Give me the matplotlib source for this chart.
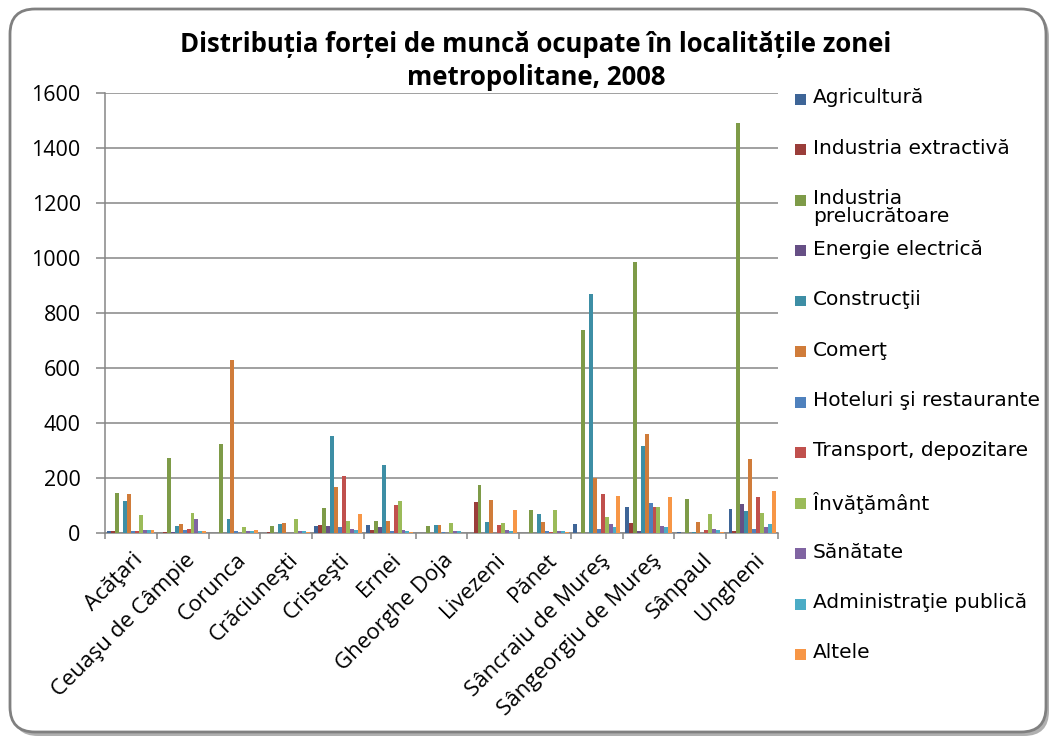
# -*- coding: utf-8 -*-

import matplotlib
import matplotlib.pyplot as plt
import numpy as np
from matplotlib.patches import FancyBboxPatch, Rectangle
from matplotlib.transforms import ScaledTranslation

matplotlib.use('Agg')

localitati = ['Acăţari', 'Ceuaşu de Câmpie', 'Corunca', 'Crăciuneşti', 'Cristeşti', 'Ernei',
              'Gheorghe Doja', 'Livezeni', 'Pănet', 'Sâncraiu de Mureş', 'Sângeorgiu de Mureş',
              'Sânpaul', 'Ungheni']

sectoare = ['Agricultură', 'Industria extractivă', 'Industria\nprelucrătoare', 'Energie electrică',
            'Construcţii', 'Comerţ', 'Hoteluri şi restaurante', 'Transport, depozitare',
            'Învăţământ', 'Sănătate', 'Administraţie publică', 'Altele']

agricultura = [8, 0, 0, 0, 27, 30, 0, 0, 0, 34, 96, 5, 88]
ind_extractiva = [8, 5, 0, 5, 30, 12, 0, 113, 0, 0, 38, 0, 8]
ind_prelucratoare = [146, 272, 323, 27, 92, 45, 27, 175, 84, 740, 985, 125, 1490]
energie = [0, 5, 0, 0, 27, 23, 0, 0, 0, 0, 8, 0, 107]
constructii = [117, 27, 52, 34, 355, 247, 30, 41, 70, 870, 316, 5, 81]
comert = [142, 34, 630, 37, 167, 45, 30, 120, 41, 202, 360, 41, 270]
hoteluri = [8, 12, 8, 0, 23, 8, 5, 0, 8, 16, 111, 0, 16]
transport = [8, 16, 0, 0, 207, 102, 0, 30, 5, 142, 96, 12, 132]
invatamant = [66, 73, 23, 52, 45, 117, 37, 37, 84, 59, 96, 70, 74]
sanatate = [12, 52, 8, 8, 16, 12, 8, 12, 8, 34, 27, 16, 23]
administratie = [12, 8, 8, 8, 12, 8, 8, 8, 8, 23, 23, 12, 34]
altele = [12, 8, 12, 5, 70, 5, 0, 84, 5, 135, 133, 5, 154]

serii = [agricultura, ind_extractiva, ind_prelucratoare, energie, constructii, comert,
         hoteluri, transport, invatamant, sanatate, administratie, altele]

culori = ['#3e6597', '#9a3d3a', '#7e9b48', '#664f85', '#3d8ea5', '#d07c3a',
          '#4f81bd', '#c0504d', '#9bbb59', '#8064a2', '#4bacc6', '#f79646']

W, H = 1057, 740
fig = plt.figure(figsize=(W / 100, H / 100), dpi=100)
fig.patch.set_facecolor('white')

# chart frame with shadow
shadow = FancyBboxPatch((0.13, 0.04), 10.36, 7.24, boxstyle='round,pad=0,rounding_size=0.25',
                        transform=fig.dpi_scale_trans, facecolor='#b0b0b0', edgecolor='none', zorder=-2)
frame = FancyBboxPatch((0.10, 0.08), 10.36, 7.23, boxstyle='round,pad=0,rounding_size=0.25',
                       transform=fig.dpi_scale_trans, facecolor='white', edgecolor='#808080',
                       lw=2, zorder=-1)
fig.patches.extend([shadow, frame])

ax = fig.add_axes([105 / W, 1 - 533.3 / H, (778 - 105) / W, (533.3 - 92.7) / H])
ax.set_facecolor('none')
ax.set_zorder(1)

x = np.arange(len(localitati)) + 0.5
width = 0.076
for j, (vals, c) in enumerate(zip(serii, culori)):
    ax.bar(x + (j - 5.5) * width, vals, width=width, color=c, lw=0, zorder=3)

ax.set_xlim(0, len(localitati))
ax.set_ylim(0, 1600)
ax.set_yticks(np.arange(0, 1601, 200))
ax.yaxis.grid(True, color='#868686', lw=1.1, zorder=0)
ax.tick_params(axis='y', length=6.5, width=1.1, color='#868686', pad=11,
               labelsize=15.5, labelfontfamily='Open Sans')

ax.set_xticks(np.arange(0, len(localitati) + 1))
ax.set_xticklabels([])
ax.set_xticks(x, minor=True)
ax.set_xticklabels(localitati, minor=True, rotation=45, ha='right', va='center',
                   rotation_mode='anchor', fontsize=16, family='Open Sans')
ax.tick_params(axis='x', which='major', length=4.5, width=1.1, color='#868686')
ax.tick_params(axis='x', which='minor', length=0, pad=17)
shift = ScaledTranslation(9 / 100, 0, fig.dpi_scale_trans)
for lbl in ax.get_xticklabels(minor=True):
    lbl.set_transform(lbl.get_transform() + shift)

for s in ['top', 'right']:
    ax.spines[s].set_visible(False)
for s in ['left', 'bottom']:
    ax.spines[s].set_color('#868686')
    ax.spines[s].set_linewidth(1.1)

fig.text(536 / W, 1 - 61 / H,
         'Distribuția forței de muncă ocupate în localitățile zonei\nmetropolitane, 2008',
         ha='center', va='center', fontsize=18.5, fontweight='bold', family='Open Sans',
         linespacing=1.25)

# legend, one slot per sector
for i, (lab, c) in enumerate(zip(sectoare, culori)):
    yc = 99 + 50.5 * i
    fig.patches.append(Rectangle((795 / W, 1 - (yc + 5.5) / H), 11 / W, 11 / H,
                                 transform=fig.transFigure, facecolor=c, edgecolor='none'))
    fig.text(813 / W, 1 - (yc - 11) / H, lab, ha='left', va='top', fontsize=14.5,
             family='DejaVu Sans', linespacing=0.95)

fig.savefig('out.png', dpi=100)
